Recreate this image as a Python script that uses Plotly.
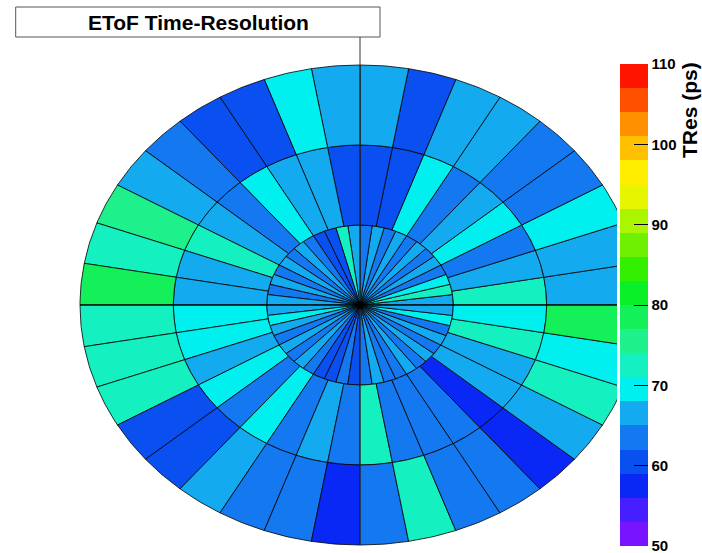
import numpy as np
import plotly.graph_objects as go

# ---------------- data ----------------
ring_edges = [0, 1, 2, 3]

# time resolution (ps) per cell, phi bins counter-clockwise from +x
tres_inner = [66.5, 72.5, 69.5, 63.5, 66.5, 63.5, 66.5, 63.5, 66.5, 63.5,
              66.5, 63.5, 66.5, 72.5, 60.5, 60.5, 63.5, 66.5, 63.5, 66.5,
              63.5, 66.5, 63.5, 66.5, 66.5, 69.5, 66.5, 63.5, 66.5, 63.5,
              66.5, 63.5, 60.5, 60.5, 63.5, 60.5, 63.5, 66.5, 63.5, 63.5,
              66.5, 63.5, 66.5, 63.5, 66.5, 63.5, 69.5, 66.5]

tres_middle = [72.5, 66.5, 63.5, 69.5, 66.5, 63.5, 69.5, 60.5, 60.5, 60.5,
               66.5, 66.5, 69.5, 63.5, 66.5, 72.5, 66.5, 66.5, 69.5, 69.5,
               66.5, 69.5, 63.5, 69.5, 63.5, 66.5, 63.5, 72.5, 63.5, 63.5,
               63.5, 57.5, 66.5, 66.5, 72.5, 69.5]

tres_outer = [66.5, 66.5, 69.5, 63.5, 63.5, 66.5, 66.5, 60.5, 66.5, 66.5,
              69.5, 60.5, 60.5, 63.5, 66.5, 75.5, 72.5, 78.5, 72.5, 72.5,
              72.5, 60.5, 60.5, 66.5, 63.5, 63.5, 57.5, 63.5, 72.5, 63.5,
              63.5, 57.5, 66.5, 72.5, 69.5, 78.5]

z_min, z_max = 50, 110
cbar_ticks = [50, 60, 70, 80, 90, 100, 110]
cbar_labels = ["50", "60", "70", "80", "90", "100", "110"]

palette = ["#7814ff", "#461eff", "#0a28f5", "#0a50f0", "#1478f0",
           "#14aaf0", "#00f0f0", "#14f0c0", "#1ef08c", "#14f05a",
           "#0af028", "#32f000", "#6ef000", "#aaf500", "#e6f500",
           "#ffee00", "#ffc000", "#ff9000", "#ff5000", "#ff1400"]

title_text = "EToF Time-Resolution"
cbar_title = "TRes (ps)"

# ---------------- helpers ----------------
band = (z_max - z_min) / len(palette)


def color_for(v):
    i = int((v - z_min) // band)
    i = max(0, min(len(palette) - 1, i))
    return palette[i]


colorscale = []
for i, c in enumerate(palette):
    colorscale.append([i / len(palette), c])
    colorscale.append([(i + 1) / len(palette), c])

fig = go.Figure()

rings = [(ring_edges[0], ring_edges[1], tres_inner),
         (ring_edges[1], ring_edges[2], tres_middle),
         (ring_edges[2], ring_edges[3], tres_outer)]

cx, cy, cv = [], [], []
for r0, r1, vals in rings:
    n = len(vals)
    w = 360.0 / n
    for k, v in enumerate(vals):
        a0, a1 = k * w, (k + 1) * w
        t = np.radians(np.linspace(a0, a1, 14))
        xs = np.concatenate([r1 * np.cos(t), r0 * np.cos(t[::-1])])
        ys = np.concatenate([r1 * np.sin(t), r0 * np.sin(t[::-1])])
        xs = np.append(xs, xs[0])
        ys = np.append(ys, ys[0])
        fig.add_trace(go.Scatter(
            x=xs, y=ys, mode="lines", fill="toself",
            fillcolor=color_for(v),
            line=dict(color="black", width=0.8),
            hoverinfo="skip", showlegend=False))
        am = np.radians((a0 + a1) / 2)
        rm = (r0 + r1) / 2
        cx.append(rm * np.cos(am))
        cy.append(rm * np.sin(am))
        cv.append(v)

# value markers (drive the colour axis / colour bar)
fig.add_trace(go.Scatter(
    x=cx, y=cy, mode="markers",
    marker=dict(color=cv, coloraxis="coloraxis", size=1, opacity=0),
    hoverinfo="skip", showlegend=False))

# axis lines through the centre
x_lo, x_hi = -360 / 93.333, 257 / 93.333
y_lo, y_hi = -(553 - 305) / 80.0, 305 / 80.0
fig.add_trace(go.Scatter(x=[-3, x_hi], y=[0, 0], mode="lines",
                         line=dict(color="black", width=1),
                         hoverinfo="skip", showlegend=False))
fig.add_trace(go.Scatter(x=[0, 0], y=[-3, (305 - 37) / 80.0], mode="lines",
                         line=dict(color="#333333", width=1),
                         hoverinfo="skip", showlegend=False))
fig.add_trace(go.Scatter(x=[0], y=[0], mode="markers",
                         marker=dict(color="black", size=8),
                         hoverinfo="skip", showlegend=False))

W, H = 702, 553
plot_w = 617
bar_top, bar_bot = 64, 546

fig.update_layout(
    width=W, height=H, autosize=False,
    margin=dict(l=0, r=W - plot_w, t=0, b=0, pad=0),
    paper_bgcolor="white", plot_bgcolor="white",
    xaxis=dict(range=[x_lo, x_hi], visible=False, fixedrange=True),
    yaxis=dict(range=[y_lo, y_hi], visible=False, fixedrange=True),
    coloraxis=dict(
        cmin=z_min, cmax=z_max, colorscale=colorscale,
        colorbar=dict(
            x=1.0, xanchor="left", xpad=3,
            y=1 - bar_bot / H, yanchor="bottom", ypad=0,
            len=(bar_bot - bar_top) / H, lenmode="fraction",
            thickness=28, thicknessmode="pixels",
            outlinewidth=0,
            tickmode="array", tickvals=cbar_ticks, ticktext=cbar_labels,
            ticks="inside", ticklen=14,
            tickcolor="black", tickwidth=1,
            ticklabeloverflow="allow",
            tickfont=dict(family="Liberation Sans", size=15,
                          color="black", weight="bold"),
        ),
    ),
    shapes=[dict(type="rect", xref="paper", yref="paper",
                 x0=15.7 / plot_w, x1=380 / plot_w,
                 y0=1 - 37 / H, y1=1 - 7 / H,
                 line=dict(color="#555555", width=1),
                 fillcolor="white", layer="above")],
    annotations=[
        dict(text="<b>" + title_text + "</b>", xref="paper", yref="paper",
             x=198 / plot_w, y=1 - 22 / H, xanchor="center", yanchor="middle",
             showarrow=False,
             font=dict(family="Liberation Sans", size=21, color="black")),
        dict(text="<b>" + cbar_title + "</b>", xref="paper", yref="paper",
             x=689 / plot_w, y=1 - 110 / H, xanchor="center", yanchor="middle",
             textangle=-90, showarrow=False,
             font=dict(family="Liberation Sans", size=21, color="black")),
    ],
)

fig.write_html("out.html",
               config={"displayModeBar": False},
               post_script="document.body.style.margin='0px';")
